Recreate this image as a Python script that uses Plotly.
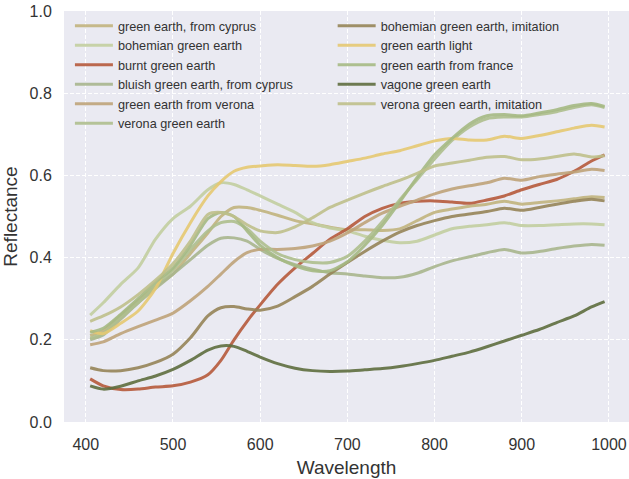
import plotly.graph_objects as go

WAVELENGTH = [405, 420, 440, 460, 480, 500, 520, 540, 555, 570, 585, 600, 620, 640, 660, 680,
              700, 720, 740, 760, 780, 800, 820, 840, 860, 880, 900, 920, 940, 960, 980, 995]

NAMES = ["green earth, from cyprus", "bohemian green earth", "burnt green earth",
         "bluish green earth, from cyprus", "green earth from verona", "verona green earth",
         "bohemian green earth, imitation", "green earth light", "green earth from france",
         "vagone green earth", "verona green earth, imitation"]

COLORS = ["#C2B47E", "#C3CFA0", "#B65A3C", "#A9B68E", "#BFA47A", "#AFBF8E",
          "#968558", "#E6C972", "#A6BA84", "#5F6E3F", "#BFC08B"]

green_earth_cyprus = [0.21, 0.222, 0.26, 0.295, 0.33, 0.36, 0.41, 0.46, 0.5, 0.522, 0.522, 0.515, 0.503, 0.49, 0.482, 0.474,
                      0.468, 0.468, 0.466, 0.47, 0.49, 0.51, 0.518, 0.525, 0.53, 0.537, 0.53, 0.534, 0.538, 0.543, 0.548, 0.546]
bohemian_green_earth = [0.26, 0.29, 0.335, 0.375, 0.445, 0.495, 0.525, 0.565, 0.582, 0.578, 0.565, 0.55, 0.53, 0.51, 0.485, 0.472,
                        0.465, 0.452, 0.442, 0.436, 0.44, 0.455, 0.47, 0.476, 0.48, 0.485, 0.478, 0.478, 0.48, 0.482, 0.482, 0.48]
burnt_green_earth = [0.105, 0.088, 0.079, 0.08, 0.085, 0.088, 0.097, 0.115, 0.15, 0.2, 0.245, 0.285, 0.335, 0.375, 0.41, 0.445,
                     0.47, 0.5, 0.52, 0.532, 0.537, 0.538, 0.535, 0.532, 0.54, 0.55, 0.565, 0.578, 0.59, 0.61, 0.635, 0.65]
bluish_green_earth_cyprus = [0.2, 0.212, 0.25, 0.29, 0.325, 0.36, 0.395, 0.43, 0.447, 0.448, 0.44, 0.42, 0.398, 0.383, 0.372, 0.363,
                             0.36, 0.355, 0.351, 0.352, 0.362, 0.378, 0.392, 0.402, 0.412, 0.42, 0.411, 0.415, 0.422, 0.428, 0.432, 0.43]
green_earth_verona = [0.188, 0.195, 0.215, 0.232, 0.248, 0.265, 0.295, 0.33, 0.36, 0.39, 0.412, 0.42, 0.42, 0.422, 0.428, 0.44,
                      0.46, 0.485, 0.508, 0.525, 0.54, 0.555, 0.567, 0.575, 0.582, 0.593, 0.588, 0.597, 0.603, 0.608, 0.615, 0.612]
verona_green_earth = [0.204, 0.215, 0.255, 0.29, 0.33, 0.37, 0.42, 0.465, 0.485, 0.488, 0.47, 0.44, 0.41, 0.395, 0.388, 0.388,
                      0.403, 0.44, 0.487, 0.54, 0.59, 0.64, 0.685, 0.718, 0.738, 0.742, 0.742, 0.748, 0.755, 0.765, 0.772, 0.765]
bohemian_imitation = [0.132, 0.125, 0.125, 0.132, 0.145, 0.165, 0.205, 0.258, 0.278, 0.281, 0.275, 0.272, 0.282, 0.305, 0.33, 0.36,
                      0.388, 0.415, 0.44, 0.462, 0.478, 0.49, 0.5, 0.506, 0.512, 0.52, 0.515, 0.522, 0.53, 0.537, 0.542, 0.538]
green_earth_light = [0.222, 0.215, 0.24, 0.27, 0.325, 0.41, 0.485, 0.55, 0.585, 0.61, 0.62, 0.623, 0.626, 0.624, 0.622, 0.626,
                     0.634, 0.642, 0.652, 0.66, 0.672, 0.684, 0.69, 0.686, 0.686, 0.695, 0.69, 0.697, 0.706, 0.715, 0.722, 0.718]
green_earth_france = [0.218, 0.228, 0.262, 0.3, 0.34, 0.375, 0.43, 0.495, 0.51, 0.5, 0.465, 0.43, 0.4, 0.38, 0.368, 0.368,
                      0.39, 0.43, 0.478, 0.535, 0.595, 0.65, 0.69, 0.725, 0.745, 0.748, 0.745, 0.752, 0.76, 0.77, 0.775, 0.768]
vagone_green_earth = [0.088, 0.08, 0.087, 0.1, 0.112, 0.128, 0.15, 0.175, 0.185, 0.184, 0.172, 0.158, 0.142, 0.131, 0.125, 0.123,
                      0.124, 0.127, 0.13, 0.135, 0.142, 0.15, 0.16, 0.17, 0.183, 0.197, 0.211, 0.225, 0.242, 0.258, 0.28, 0.293]
verona_imitation = [0.245, 0.258, 0.28, 0.31, 0.345, 0.385, 0.44, 0.505, 0.51, 0.5, 0.48, 0.465, 0.461, 0.475, 0.497, 0.522,
                    0.54, 0.557, 0.573, 0.588, 0.605, 0.623, 0.63, 0.637, 0.644, 0.646, 0.638, 0.64, 0.646, 0.652, 0.645, 0.648]

SERIES = [green_earth_cyprus, bohemian_green_earth, burnt_green_earth, bluish_green_earth_cyprus,
          green_earth_verona, verona_green_earth, bohemian_imitation, green_earth_light,
          green_earth_france, vagone_green_earth, verona_imitation]

X_TICKS = [400, 500, 600, 700, 800, 900, 1000]
Y_TICKS = [0.0, 0.2, 0.4, 0.6, 0.8, 1.0]

FONT = "Liberation Sans, Arial, Helvetica, sans-serif"
TEXT = "#333333"

fig = go.Figure()
for i, (name, vals, col) in enumerate(zip(NAMES, SERIES, COLORS)):
    fig.add_trace(go.Scatter(
        x=WAVELENGTH, y=vals, name=name, mode="lines",
        line=dict(color=col, width=3, shape="spline", smoothing=0.7),
        opacity=0.9,
        legend="legend" if i < 6 else "legend2",
    ))

legend_common = dict(font=dict(family=FONT, size=12.7, color=TEXT), bgcolor="rgba(0,0,0,0)",
                     borderwidth=0, xanchor="left", yanchor="top", tracegroupgap=0,
                     itemwidth=38)

fig.update_layout(
    width=629, height=479,
    margin=dict(l=64, r=0, t=11, b=57),
    paper_bgcolor="white", plot_bgcolor="#EAEAF2",
    font=dict(family=FONT, color=TEXT),
    xaxis=dict(range=[375, 1023], tickvals=X_TICKS, showgrid=True, gridcolor="white",
               griddash="4px,2px", gridwidth=1, zeroline=False, showline=False,
               ticks="outside", ticklen=8, tickcolor="rgba(0,0,0,0)",
               tickfont=dict(family=FONT, size=16, color=TEXT),
               title=dict(text="Wavelength", font=dict(family=FONT, size=19, color=TEXT), standoff=8)),
    yaxis=dict(range=[0, 1], tickvals=Y_TICKS, tickformat=".1f", showgrid=True, gridcolor="white",
               griddash="4px,2px", gridwidth=1, zeroline=False, showline=False,
               ticks="outside", ticklen=8, tickcolor="rgba(0,0,0,0)",
               tickfont=dict(family=FONT, size=16, color=TEXT),
               title=dict(text="Reflectance", font=dict(family=FONT, size=19, color=TEXT), standoff=6)),
    legend=dict(x=0.0105, y=1.0, **legend_common),
    legend2=dict(x=0.4755, y=1.0, **legend_common),
)

fig.write_html("out.html")
